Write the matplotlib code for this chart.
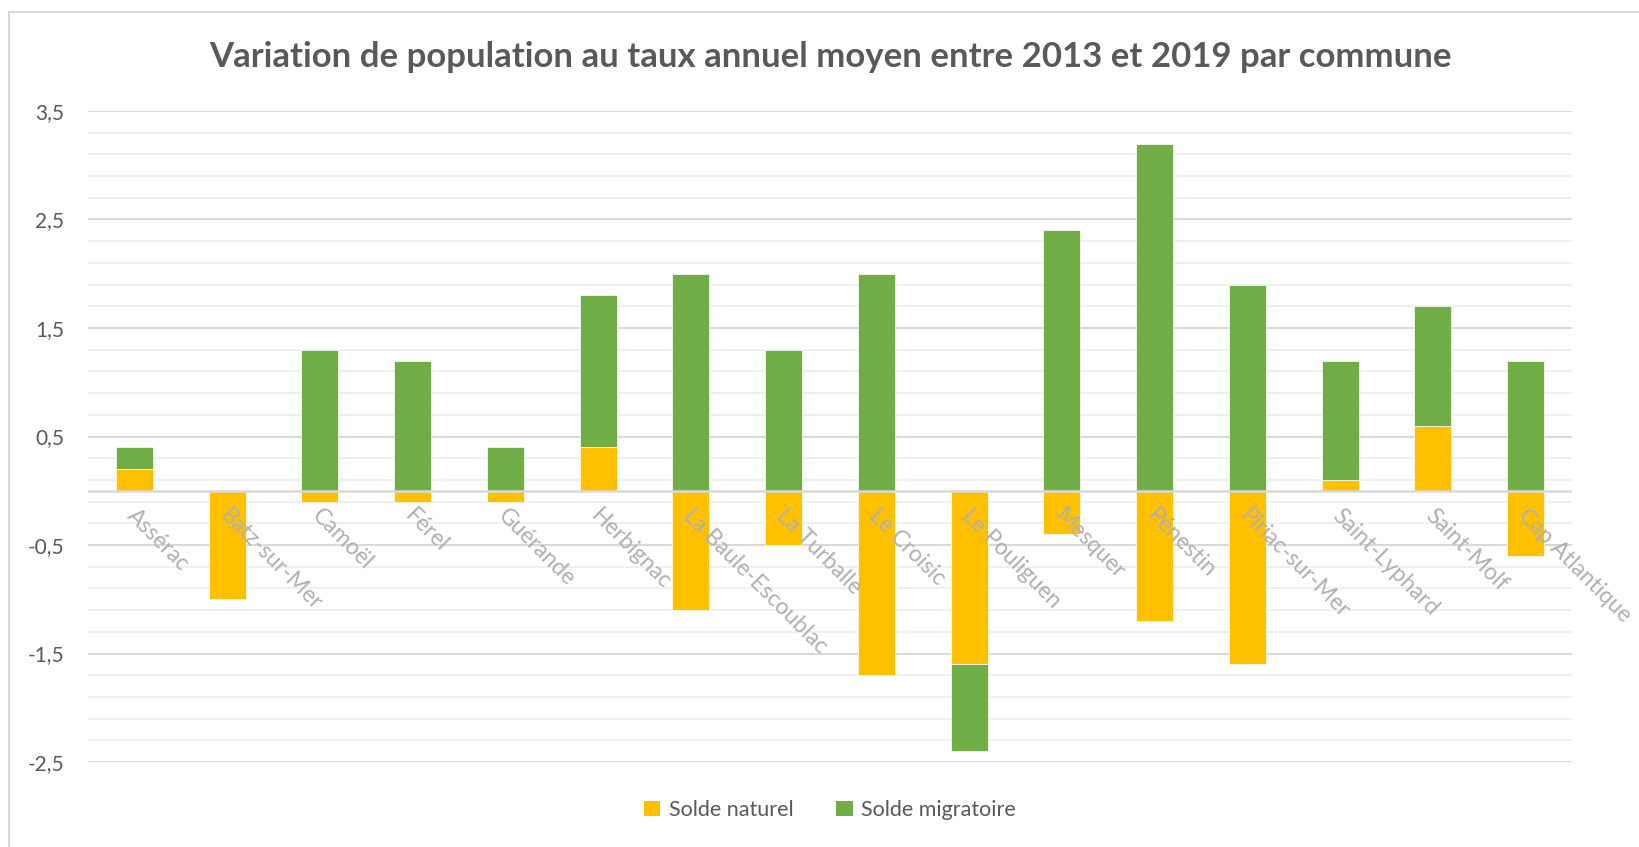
import matplotlib
matplotlib.use("Agg")
import matplotlib.pyplot as plt
import matplotlib.transforms as mtransforms
from matplotlib.patches import Rectangle, Patch
import numpy as np

plt.rcParams['font.family'] = ['Lato', 'DejaVu Sans']

communes = ["Assérac", "Batz-sur-Mer", "Camoël", "Férel", "Guérande", "Herbignac",
            "La Baule-Escoublac", "La Turballe", "Le Croisic", "Le Pouliguen", "Mesquer",
            "Pénestin", "Piriac-sur-Mer", "Saint-Lyphard", "Saint-Molf", "Cap Atlantique"]
solde_naturel = [0.2, -1.0, -0.1, -0.1, -0.1, 0.4, -1.1, -0.5, -1.7, -1.6, -0.4,
                 -1.2, -1.6, 0.1, 0.6, -0.6]
solde_migratoire = [0.2, 0.0, 1.3, 1.2, 0.4, 1.4, 2.0, 1.3, 2.0, -0.8, 2.4,
                    3.2, 1.9, 1.1, 1.1, 1.2]
yticks = [3.5, 2.5, 1.5, 0.5, -0.5, -1.5, -2.5]
ytick_labels = ["3,5", "2,5", "1,5", "0,5", "-0,5", "-1,5", "-2,5"]
title = "Variation de population au taux annuel moyen entre 2013 et 2019 par commune"

YELLOW = "#FFC000"
GREEN = "#70AD47"
TXT = "#595959"

W, H = 1639, 847
fig = plt.figure(figsize=(W / 100, H / 100), dpi=100)
fig.patch.set_facecolor("white")

# chart border (left/top visible)
fig.patches.append(Rectangle((9 / W, -0.05), 1.2, 1 - 12 / H + 0.05,
                             transform=fig.transFigure, fill=False,
                             edgecolor="#d9d9d9", lw=1.5))

ax = fig.add_axes([88 / W, 1 - 762 / H, (1572 - 88) / W, (762 - 111) / H])
ax.set_facecolor("white")

x = np.arange(len(communes))
nat = np.array(solde_naturel)
mig = np.array(solde_migratoire)
same_sign = np.sign(nat) == np.sign(mig)
mig_bottom = np.where(same_sign, nat, 0.0)

ax.bar(x, nat, width=0.4, color=YELLOW, edgecolor="white", linewidth=0.5, zorder=3,
       label="Solde naturel")
ax.bar(x, mig, width=0.4, bottom=mig_bottom, color=GREEN, edgecolor="white",
       linewidth=0.5, zorder=3, label="Solde migratoire")

ax.set_xlim(-0.5, len(communes) - 0.5)
ax.set_ylim(-2.5, 3.5)

# gridlines
for v in np.arange(-2.3, 3.5, 0.2):
    if not any(abs(v - t) < 1e-6 for t in yticks):
        ax.axhline(v, color="#f0f0f0", lw=1.5, zorder=1)
for t in yticks:
    ax.axhline(t, color="#d9d9d9", lw=1.5, zorder=1)
ax.axhline(0, color="#d9d9d9", lw=1.8, zorder=4)

for s in ax.spines.values():
    s.set_visible(False)

ax.set_yticks(yticks)
ax.set_yticklabels(ytick_labels)
ax.tick_params(axis="y", length=0, pad=17, labelsize=15, labelcolor=TXT)

ax.set_xticks([])
offset = mtransforms.ScaledTranslation(-4 / 100, -22 / 100, fig.dpi_scale_trans)
for xi, name in zip(x, communes):
    ax.text(xi, 0, name, rotation=-45, rotation_mode="anchor", ha="left", va="center",
            fontsize=16.5, color="#b0b0b0", transform=ax.transData + offset, zorder=5)

fig.text(0.5 * (88 + 1572) / W, 1 - 57 / H, title, ha="center", va="center",
         fontsize=25, fontweight="bold", color=TXT)

handles = [Patch(facecolor=YELLOW, edgecolor="none"), Patch(facecolor=GREEN, edgecolor="none")]
fig.legend(handles, ["Solde naturel", "Solde migratoire"], loc="center",
           bbox_to_anchor=(0.5 * (88 + 1572) / W, 1 - 810 / H), ncol=2, frameon=False,
           fontsize=15.5, labelcolor=TXT, handlelength=0.75, handleheight=0.75,
           handletextpad=0.4, columnspacing=2.0)

fig.savefig("out.png", dpi=100, facecolor="white")
